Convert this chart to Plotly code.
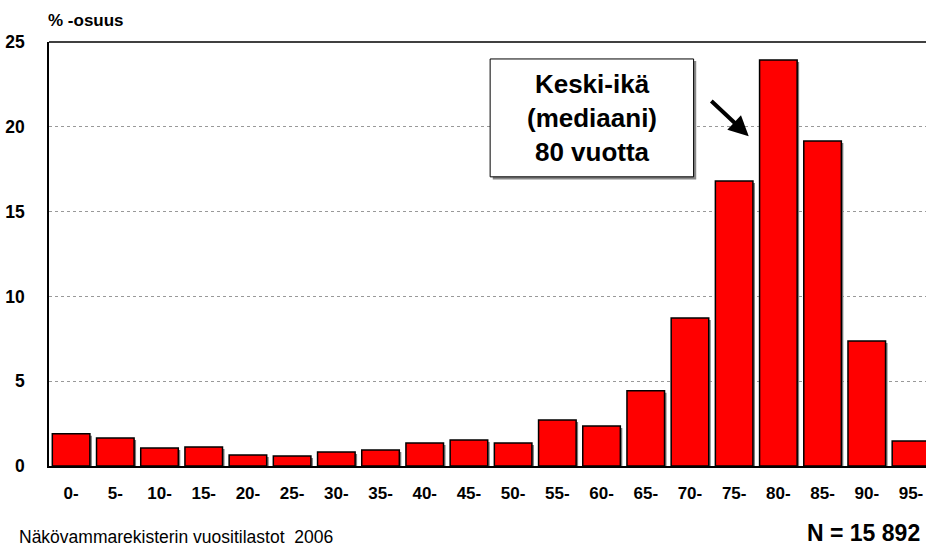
import plotly.graph_objects as go

categories = ["0-", "5-", "10-", "15-", "20-", "25-", "30-", "35-", "40-", "45-",
              "50-", "55-", "60-", "65-", "70-", "75-", "80-", "85-", "90-", "95-"]
values = [1.9, 1.65, 1.06, 1.12, 0.65, 0.59, 0.83, 0.94, 1.36, 1.53,
          1.36, 2.71, 2.36, 4.44, 8.73, 16.8, 23.94, 19.16, 7.37, 1.47]
y_ticks = [0, 5, 10, 15, 20, 25]

FONT = "Arial, Liberation Sans, sans-serif"
xpos = list(range(len(categories)))

fig = go.Figure()
# drop shadow
fig.add_trace(go.Bar(
    x=[p + 0.045 for p in xpos], y=values, base=[-0.12] * len(values),
    width=0.85, marker=dict(color="#7a7a7a", line=dict(width=0)),
    hoverinfo="skip", showlegend=False))
# main bars
fig.add_trace(go.Bar(
    x=xpos, y=values, width=0.85,
    marker=dict(color="#FF0000", line=dict(color="black", width=1.5)),
    showlegend=False))

fig.update_layout(
    width=926, height=546,
    margin=dict(l=49, r=0, t=42, b=80),
    paper_bgcolor="white", plot_bgcolor="white",
    barmode="overlay",
    font=dict(family=FONT, color="black"),
    xaxis=dict(range=[-0.5, 19.34], tickvals=xpos,
               ticktext=[f"<b>{c}</b>" for c in categories],
               showgrid=False, zeroline=False, showline=True, linecolor="black",
               linewidth=1.5, ticks="", ticklabelstandoff=11,
               tickfont=dict(family=FONT, size=17, color="black")),
    yaxis=dict(range=[0, 25], tickvals=y_ticks,
               ticktext=[f"<b>{t}</b>" for t in y_ticks], showgrid=True,
               gridcolor="#999999", griddash="dot", gridwidth=1,
               zeroline=False, showline=True, linecolor="black", linewidth=1.5,
               ticks="", ticklabelstandoff=19,
               tickfont=dict(family=FONT, size=17.5, color="black")),
    shapes=[
        dict(type="line", xref="paper", yref="paper", x0=0, x1=1, y0=1, y1=1,
             line=dict(color="black", width=1.5)),
        dict(type="rect", xref="paper", yref="paper", x0=0.506, x1=0.738,
             y0=0.676, y1=0.955, fillcolor="#888888", line=dict(width=0)),
        dict(type="rect", xref="paper", yref="paper", x0=0.503, x1=0.735,
             y0=0.682, y1=0.960, fillcolor="white",
             line=dict(color="black", width=1)),
    ],
    annotations=[
        dict(text="<b>% -osuus</b>", xref="paper", yref="paper", x=-0.003, y=1.05,
             xanchor="left", yanchor="middle", showarrow=False,
             font=dict(family=FONT, size=17, color="black")),
        dict(text="<b>Keski-ikä<br>(mediaani)<br>80 vuotta</b>", xref="paper",
             yref="paper", x=0.619, y=0.82, xanchor="center", yanchor="middle",
             showarrow=False, align="center",
             font=dict(family=FONT, size=26, color="black")),
        dict(text="", xref="x", yref="y", x=15.33, y=19.45, axref="x", ayref="y",
             ax=14.45, ay=21.6, showarrow=True, arrowhead=2, arrowsize=1,
             arrowwidth=4, arrowcolor="black", standoff=0),
        dict(text="Näkövammarekisterin vuositilastot  2006", xref="paper", yref="paper",
             x=-0.037, y=-0.167, xanchor="left", yanchor="middle", showarrow=False,
             font=dict(family=FONT, size=17.5, color="black")),
        dict(text="<b>N = 15 892</b>", xref="paper", yref="paper", x=0.996, y=-0.158,
             xanchor="right", yanchor="middle", showarrow=False,
             font=dict(family=FONT, size=23, color="black")),
    ],
)

fig.write_html("out.html")
